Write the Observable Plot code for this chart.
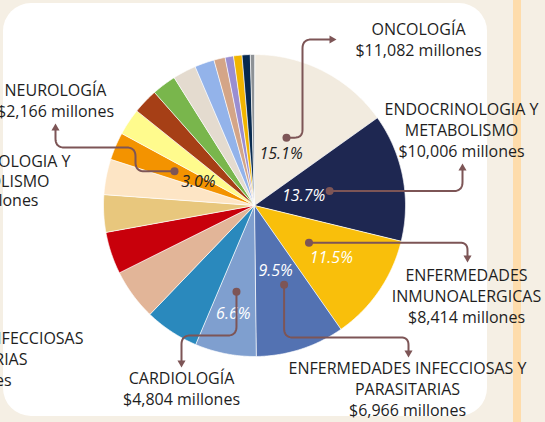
<!DOCTYPE html>
<html><head><meta charset="utf-8">
<script src="https://cdn.jsdelivr.net/npm/d3@7"></script>
<script src="https://cdn.jsdelivr.net/npm/@observablehq/plot@0.6"></script>
<style>
html,body{margin:0;padding:0;width:545px;height:422px;overflow:hidden;background:#f5efe4;}
#card{position:absolute;left:3px;top:3px;width:484px;height:413px;background:#fff;border-radius:28px;}
#stripe{position:absolute;left:513px;top:0;width:8px;height:422px;background:#fedcab;}
#chart{position:absolute;left:0;top:0;}
</style></head><body>
<div id="card"></div><div id="stripe"></div><div id="chart"></div>
<script>
// ---- data (millones de pesos) ----
const categories = ["Oncología","Endocrinología y metabolismo","Enfermedades inmunoalergicas",
  "Enfermedades infecciosas y parasitarias","Cardiología","Área 6","Área 7","Área 8","Área 9","Área 10",
  "Neurología","Área 12","Área 13","Área 14","Área 15","Área 16","Área 17","Área 18","Área 19","Área 20","Área 21"];
const values = [11082,10006,8414,6966,4804,4250,4000,3300,2930,2780,2166,2100,1980,1900,1830,1540,880,660,660,640,330];
const colors = ["#f2ebdf","#1e2751","#f9bf0b","#5372b2","#7f9fcf","#2a89bd","#e2b598","#c8000b","#e8c77d","#fde5c5",
  "#f39300","#fffb8d","#a63f16","#79b64c","#e4dbcf","#93b3ea","#d4a587","#9a8ed1","#f1b500","#07294f","#8e9296"];
const labelTexts = ["ONCOLOGÍA","ENDOCRINOLOGIA Y\nMETABOLISMO","ENFERMEDADES\nINMUNOALERGICAS",
  "ENFERMEDADES INFECCIOSAS Y\nPARASITARIAS","CARDIOLOGÍA",null,null,null,null,null,"NEUROLOGÍA",
  null,null,null,null,null,null,null,null,null,null];
// partially visible labels at the left edge
const ghostLines = ["ENDOCRINOLOGIA Y","METABOLISMO","$10,006 millones",
  "ENFERMEDADES INFECCIOSAS","Y PARASITARIAS","$6,966 millones"];

// ---- layout ----
const L = {cx: 254, cy: 205, R: 151, fs: 16, lh: 21, ink: "#1e1e1e", lead: "#7d5556"};
const callouts = {
  "Oncología": {pctR: 58, dotR: 75, dotDa: -2, pctInk: "#222", path: [["h",302],["v",39],["h",336]], at: [418, 34]},
  "Endocrinología y metabolismo": {pctR: 50, dotR: 76.5, dotDa: 0, pctInk: "#fff", path: [["h",462],["v",163]], at: [461, 114]},
  "Enfermedades inmunoalergicas": {pctR: 93, dotR: 66, dotDa: 0, pctInk: "#fff", path: [["h",467],["v",262]], at: [466, 280]},
  "Enfermedades infecciosas y parasitarias": {pctR: 69, dotR: 84.5, dotDa: -2.7, pctInk: "#fff", path: [["v",337],["h",408],["v",357]], at: [407, 373]},
  "Cardiología": {pctR: 110, dotR: 88, dotDa: 0.7, pctInk: "#fff", path: [["v",335],["h",181],["v",367]], at: [181, 383]},
  "Neurología": {pctR: 61, dotR: 87, dotDa: 0, pctInk: "#222", path: [["h",135],["v",147],["h",55],["v",123]], at: [55, 95]}
};
const ghostPos = [[70,166],[49,186],[38,205],[83,343],[27,364],[11,385]];

// ---- derived ----
const data = categories.map((name, i) => ({name, value: values[i], color: colors[i], label: labelTexts[i]}));
const total = d3.sum(values);
const arcs = d3.pie().sort(null).value(d => d.value)(data);
const polar = (a, r) => [L.cx + r * Math.sin(a), L.cy - r * Math.cos(a)];
const rad = Math.PI / 180;

const piePts = [];
arcs.forEach(a => {
  piePts.push({key: a.data.name, color: a.data.color, x: L.cx, y: L.cy});
  const n = Math.max(2, Math.ceil((a.endAngle - a.startAngle) / (0.4 * rad)));
  for (let k = 0; k <= n; k++) {
    const t = a.startAngle + (a.endAngle - a.startAngle) * k / n;
    const [x, y] = polar(t, L.R);
    piePts.push({key: a.data.name, color: a.data.color, x, y});
  }
});

function roundPolyline(pts, rr) {
  const out = [pts[0]];
  for (let i = 1; i < pts.length - 1; i++) {
    const [px, py] = pts[i-1], [cx, cy] = pts[i], [nx, ny] = pts[i+1];
    const l1 = Math.hypot(cx-px, cy-py), l2 = Math.hypot(nx-cx, ny-cy);
    const r = Math.min(rr, l1/2, l2/2);
    const a = [cx - (cx-px)/l1*r, cy - (cy-py)/l1*r];
    const b = [cx + (nx-cx)/l2*r, cy + (ny-cy)/l2*r];
    for (let k = 0; k <= 10; k++) {
      const t = k / 10, u = 1 - t;
      out.push([u*u*a[0] + 2*u*t*cx + t*t*b[0], u*u*a[1] + 2*u*t*cy + t*t*b[1]]);
    }
  }
  out.push(pts[pts.length-1]);
  return out;
}

const leadPts = [], dots = [], heads = [], pcts = [], labelLines = [];
arcs.forEach(a => {
  const c = callouts[a.data.name];
  if (!c) return;
  const mid = (a.startAngle + a.endAngle) / 2;
  const pct = polar(mid, c.pctR);
  pcts.push({x: pct[0], y: pct[1], text: d3.format(".1f")(a.data.value / total * 100) + "%", ink: c.pctInk});
  const dot = polar(mid + c.dotDa * rad, c.dotR);
  dots.push({x: dot[0], y: dot[1]});
  const way = [dot];
  let [x, y] = dot;
  c.path.forEach(([dir, v]) => { if (dir === "h") x = v; else y = v; way.push([x, y]); });
  const tip = way[way.length-1], prev = way[way.length-2];
  const len = Math.hypot(tip[0]-prev[0], tip[1]-prev[1]);
  const ux = (tip[0]-prev[0]) / len, uy = (tip[1]-prev[1]) / len;
  way[way.length-1] = [tip[0] - ux*5, tip[1] - uy*5];
  roundPolyline(way, 9).forEach(([px, py]) => leadPts.push({key: a.data.name, x: px, y: py}));
  const rot = Math.atan2(ux, -uy) / rad;
  heads.push({x: tip[0] - ux*4.67, y: tip[1] - uy*4.67, rot});
  const lines = a.data.label.split("\n").concat(["$" + d3.format(",")(a.data.value) + " millones"]);
  lines.forEach((t, i) => labelLines.push({x: c.at[0], y: c.at[1] + i * L.lh, text: t}));
});
const ghosts = ghostLines.map((t, i) => ({text: t, x: ghostPos[i][0], y: ghostPos[i][1]}));

const font = "'Open Sans', sans-serif";
const chart = Plot.plot({
  width: 545, height: 422, margin: 0,
  x: {domain: [0, 545], range: [0, 545], axis: null},
  y: {domain: [0, 422], range: [0, 422], axis: null},
  color: {type: "identity"},
  style: {background: "transparent", fontFamily: font, overflow: "visible"},
  marks: [
    Plot.line(piePts, {x: "x", y: "y", z: "key", fill: "color", stroke: "#fff", strokeWidth: 0.7, curve: "linear-closed"}),
    Plot.text(pcts, {x: "x", y: "y", text: "text", fill: "ink", fontSize: 16, fontStyle: "italic", fontFamily: font, lineAnchor: "middle", textAnchor: "middle"}),
    Plot.line(leadPts, {x: "x", y: "y", z: "key", stroke: L.lead, strokeWidth: 2, curve: "linear"}),
    Plot.dot(dots, {x: "x", y: "y", r: 4, fill: L.lead, stroke: null}),
    Plot.dot(heads, {x: "x", y: "y", r: 3, symbol: "triangle", rotate: "rot", fill: L.lead, stroke: null}),
    Plot.text(labelLines, {x: "x", y: "y", text: "text", fill: L.ink, fontSize: L.fs, fontFamily: font, lineAnchor: "bottom", textAnchor: "middle"}),
    Plot.text(ghosts, {x: "x", y: "y", text: "text", fill: L.ink, fontSize: L.fs, fontFamily: font, lineAnchor: "bottom", textAnchor: "end"})
  ]
});
document.getElementById("chart").appendChild(chart);
</script>
</body></html>
